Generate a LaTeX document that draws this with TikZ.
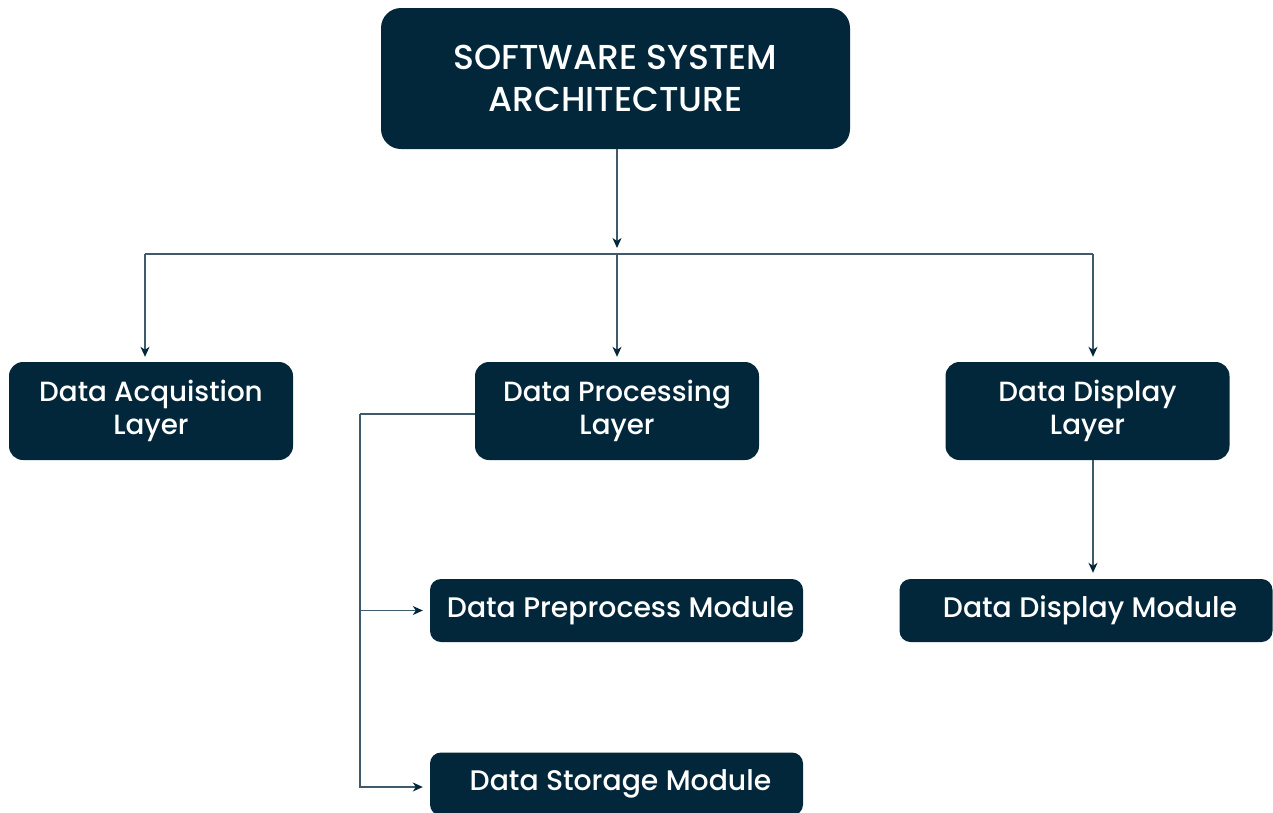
\documentclass[tikz,border=0pt]{standalone}
\usepackage{fontspec}
\setmainfont{Poppins}[UprightFont=* Medium]
\usetikzlibrary{arrows.meta}
\definecolor{navy}{HTML}{03273A}
\definecolor{wire}{HTML}{3F5A6A}
\begin{document}
\begin{tikzpicture}[x=1pt,y=-1pt,
  box/.style={fill=navy, text=white, align=center, inner sep=0pt},
  layerbox/.style={box, rounded corners=14pt, minimum width=284pt, minimum height=98pt,
    font=\fontsize{27.8}{33}\selectfont},
  modbox/.style={box, rounded corners=11pt, minimum width=373pt, minimum height=63pt,
    font=\fontsize{28.3}{33}\selectfont},
  wireline/.style={draw=wire, line width=1.4pt},
  arr/.style={wireline, -{Stealth[length=10pt,width=9pt,inset=3pt,fill=navy,color=navy]}}]
\useasboundingbox (0,0) rectangle (1273,812);

% top level
\node[box, rounded corners=20pt, minimum width=469pt, minimum height=141pt,
  font=\fontsize{34.6}{42}\selectfont] (title) at (615.5,78.5)
  {SOFTWARE SYSTEM\\ARCHITECTURE};

% layers
\node[layerbox] (acq)  at (151,411)    {\raisebox{-2pt}{Data Acquistion}\\\raisebox{-2pt}{Layer}};
\node[layerbox] (proc) at (617,411)    {\raisebox{-2pt}{Data Processing}\\\raisebox{-2pt}{Layer}};
\node[layerbox] (dlay) at (1087.5,411) {\raisebox{-2pt}{Data Display}\\\raisebox{-2pt}{Layer}};

% modules
\node[modbox] (prep) at (616.5,610.5) {\hspace*{8pt}\raisebox{-2pt}{Data Preprocess Module}};
\node[modbox] (store) at (616.5,784)  {\hspace*{8pt}\raisebox{-2pt}{Data Storage Module}};
\node[modbox] (dmod) at (1086,610.5)  {\hspace*{8pt}\raisebox{-2pt}{Data Display Module}};

% distribution bus
\coordinate (bus)  at (617,254);
\coordinate (busL) at (145,254);
\coordinate (busR) at (1093,254);
\draw[arr] (title.south -| bus) -- ([yshift=6pt]bus);
\draw[wireline] (busL) -- (busR);
\draw[arr, shorten >=5pt] (busL) -- (busL |- acq.north);
\draw[arr, shorten >=5pt] (bus) -- (proc.north);
\draw[arr, shorten >=5pt] (busR) -- (busR |- dlay.north);

% processing branches
\coordinate (spine) at (360,414);
\draw[wireline] ([yshift=-3pt]proc.west) -- (spine);
\draw[arr, shorten >=7pt] (spine) -- ([yshift=-3pt]spine |- store.west) -- ([yshift=-3pt]store.west);
\draw[arr, shorten >=7pt] (spine |- prep.west) -- (prep.west);

% display branch
\draw[arr, shorten >=6pt] (dlay.south -| busR) -- (dmod.north -| busR);
\end{tikzpicture}
\end{document}
